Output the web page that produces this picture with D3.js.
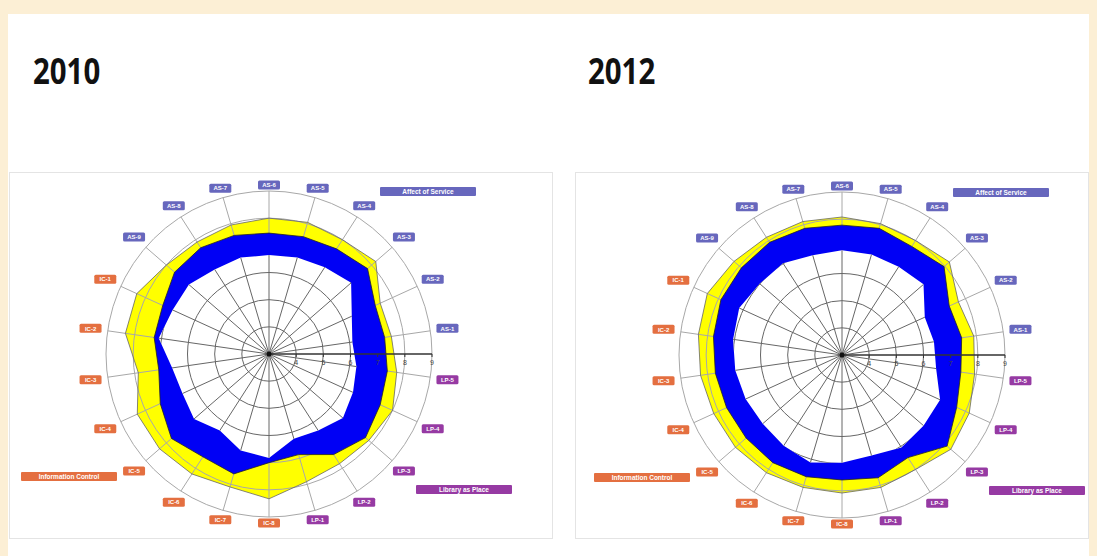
<!DOCTYPE html>
<html>
<head>
<meta charset="utf-8">
<script src="https://cdn.jsdelivr.net/npm/d3@7"></script>
<style>
  body { margin: 0; background: #fcefd5; }
  svg { display: block; }
</style>
</head>
<body>
<svg width="1097" height="556"></svg>
<script>
// LibQUAL+ style radar, two years side by side

var categories = ["AS-1","AS-2","AS-3","AS-4","AS-5","AS-6","AS-7","AS-8","AS-9",
                  "IC-1","IC-2","IC-3","IC-4","IC-5","IC-6","IC-7","IC-8",
                  "LP-1","LP-2","LP-3","LP-4","LP-5"];
var groupNames = ["Affect of Service","Information Control","Library as Place"];
var tickValues = [4,5,6,7,8,9];
var years = ["2010","2012"];

// minimum / perceived / desired means per item
var min2010       = [6.10,6.35,7.00,6.80,6.70,6.64,6.70,6.70,6.90, 6.90,7.10,6.60,6.50,6.65,6.35,6.70,6.83, 6.25,6.35,6.60,6.40,6.25];
var perceived2010 = [7.30,7.30,7.80,7.60,7.50,7.45,7.55,7.65,7.60, 7.30,7.27,7.10,7.40,7.75,7.50,7.60,7.00, 6.86,7.40,7.70,7.50,7.40];
var desired2010   = [7.55,7.50,8.20,8.00,8.05,8.00,7.95,7.90,8.00, 8.35,8.34,7.86,8.33,8.33,8.25,8.10,8.33, 7.90,7.80,7.86,8.00,7.75];

var min2012       = [6.42,6.35,6.97,6.86,6.86,6.86,6.83,7.01,7.01, 7.16,7.05,6.97,6.90,6.86,6.97,7.12,6.97, 6.86,7.05,6.97,6.97,6.50];
var perceived2012 = [7.45,7.34,7.97,7.75,7.86,7.78,7.86,7.93,7.90, 7.90,7.78,7.71,7.67,7.67,7.71,7.67,7.60, 7.71,7.49,8.12,7.64,7.42];
var desired2012   = [7.90,7.71,8.23,8.01,8.04,8.08,8.12,8.15,8.26, 8.45,8.34,8.26,8.19,8.19,8.15,8.08,8.08, 8.08,8.01,8.30,8.15,7.93];

var groupColor = {AS: "#6767bd", IC: "#e46f40", LP: "#963aa3"};

var svg = d3.select("svg");

// page: beige border, white sheet, two faint frames
svg.append("rect").attr("x", 8).attr("y", 14).attr("width", 1081).attr("height", 542).attr("fill", "#fff");
svg.append("rect").attr("x", 9.5).attr("y", 172.5).attr("width", 543).attr("height", 366)
  .attr("fill", "none").attr("stroke", "#e4e4e4");
svg.append("rect").attr("x", 575.5).attr("y", 172.5).attr("width", 513).attr("height", 366)
  .attr("fill", "none").attr("stroke", "#e4e4e4");

var r = d3.scaleLinear().domain([3, 9]).range([0, 163]);
var step = 2 * Math.PI / categories.length;
// angle in radians, clockwise from 12 o'clock (d3.lineRadial convention)
var angle = function(i){ return Math.PI / 2 - (step / 2 + i * step); };

var drawRadar = function(cx, cy, year, mins, perc, des, clipId){
  var g = svg.append("g").attr("transform", "translate(" + cx + "," + cy + ")");

  var line = function(vals){
    return d3.lineRadial()
      .angle(function(d, i){ return angle(i); })
      .radius(function(d){ return r(d); })
      .curve(d3.curveLinearClosed)(vals);
  };

  var web = function(sel, color, width){
    sel.selectAll("circle.ring").data(tickValues).enter().append("circle")
      .attr("r", function(d){ return r(d); })
      .attr("fill", "none").attr("stroke", color).attr("stroke-width", width);
    sel.selectAll("line.spoke").data(categories).enter().append("line")
      .attr("x1", 0).attr("y1", 0)
      .attr("x2", function(d, i){ return r(9) * Math.sin(angle(i)); })
      .attr("y2", function(d, i){ return -r(9) * Math.cos(angle(i)); })
      .attr("stroke", color).attr("stroke-width", width);
  };

  // yellow band, then the light web over it, blue hides the web
  g.append("path").attr("d", line(des)).attr("fill", "#ffff00");
  web(g.append("g"), "#a8a8a8", 1);
  g.append("path").attr("d", line(des)).attr("fill", "none").attr("stroke", "#666").attr("stroke-width", 0.8);
  g.append("path").attr("d", line(perc)).attr("fill", "#0000f5").attr("stroke", "#222").attr("stroke-width", 0.8);
  g.append("path").attr("d", line(mins)).attr("fill", "#fff");

  // darker web inside the minimum area
  g.append("clipPath").attr("id", clipId).append("path").attr("d", line(mins));
  web(g.append("g").attr("clip-path", "url(#" + clipId + ")"), "#666", 1);

  // value axis along the horizontal
  g.append("line").attr("x1", 0).attr("y1", 0).attr("x2", r(9)).attr("y2", 0)
    .attr("stroke", "#333").attr("stroke-width", 1.3);
  var axis = g.append("g").selectAll("g").data(tickValues).enter().append("g")
    .attr("transform", function(d){ return "translate(" + r(d) + ",0)"; });
  axis.append("line").attr("y1", 0).attr("y2", 3).attr("stroke", "#333");
  axis.append("text").attr("y", 11).attr("text-anchor", "middle")
    .attr("font-family", "Arial, sans-serif").attr("font-size", 7).attr("fill", "#444")
    .text(function(d){ return d; });
  g.append("circle").attr("r", 2.5).attr("fill", "#111");

  // item labels
  var labels = g.selectAll("g.lab").data(categories).enter().append("g")
    .attr("transform", function(d, i){
      var a = angle(i);
      var s = Math.sin(a), c = Math.cos(a);
      var R = 166 + 14 * Math.abs(s) + 3 * Math.abs(c);
      return "translate(" + (R * s) + "," + (-R * c) + ")";
    });
  labels.append("rect").attr("x", -11).attr("y", -4.5).attr("width", 22).attr("height", 9).attr("rx", 1.5)
    .attr("fill", function(d){ return groupColor[d.slice(0, 2)]; });
  labels.append("text").attr("y", 2.2).attr("text-anchor", "middle")
    .attr("font-family", "Arial, sans-serif").attr("font-size", 6).attr("font-weight", "bold")
    .attr("fill", "#fff").text(function(d){ return d; });

  // group legends
  var legendPos = [[111, -167], [-248, 118], [147, 131]];
  var legendKey = ["AS", "IC", "LP"];
  var leg = g.selectAll("g.leg").data(groupNames).enter().append("g")
    .attr("transform", function(d, i){ return "translate(" + legendPos[i][0] + "," + legendPos[i][1] + ")"; });
  leg.append("rect").attr("width", 96).attr("height", 9).attr("rx", 1)
    .attr("fill", function(d, i){ return groupColor[legendKey[i]]; });
  leg.append("text").attr("x", 48).attr("y", 6.8).attr("text-anchor", "middle")
    .attr("font-family", "Arial, sans-serif").attr("font-size", 6.5).attr("font-weight", "bold")
    .attr("fill", "#fff").text(function(d){ return d; });

  return g;
};

drawRadar(269, 354, years[0], min2010, perceived2010, desired2010, "clip2010");
drawRadar(842, 355, years[1], min2012, perceived2012, desired2012, "clip2012");

// titles (narrow bold, like Calibri)
svg.selectAll("text.title").data(years).enter().append("text")
  .attr("class", "title")
  .attr("transform", function(d, i){ return "translate(" + (i === 0 ? 33 : 588) + ",84) scale(0.84,1)"; })
  .attr("font-family", "'Open Sans', sans-serif").attr("font-weight", 700).attr("font-size", 35)
  .attr("fill", "#111")
  .text(function(d){ return d; });
</script>
</body>
</html>
